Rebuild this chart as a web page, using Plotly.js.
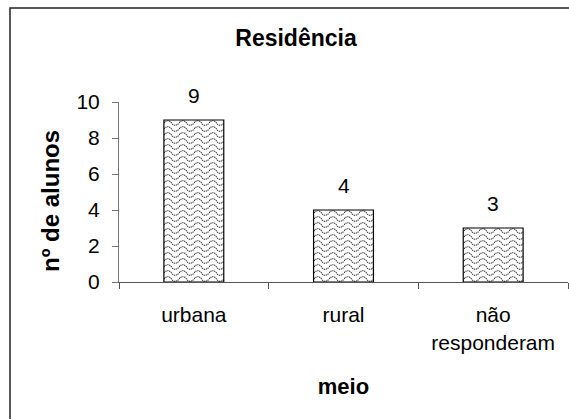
<!DOCTYPE html>
<html>
<head>
<meta charset="utf-8">
<script src="https://cdn.plot.ly/plotly-3.0.1.min.js"></script>
<style>
html,body{margin:0;padding:0;background:#fff;}
#chart{width:569px;height:419px;}
</style>
</head>
<body>
<div id="chart"></div>
<script>
const categories = ['urbana', 'rural', 'não<br>responderam'];
const values = [9, 4, 3];
const labels = ['9', '4', '3'];
const yTicks = [0, 2, 4, 6, 8, 10];

const FONT = 'Liberation Sans, Arial, sans-serif';

const trace = {
  type: 'bar',
  x: categories,
  y: values,
  marker: {
    color: '#ffffff',
    line: {color: '#000000', width: 1.2},
    pattern: {shape: '-', size: 6, solidity: 0.25, fgcolor: '#444444', bgcolor: '#ffffff', fillmode: 'replace'}
  },
  hoverinfo: 'skip'
};

const annotations = categories.map((c, i) => ({
  x: c, y: values[i], xref: 'x', yref: 'y',
  text: labels[i], showarrow: false, yanchor: 'bottom', yshift: 11,
  font: {family: FONT, size: 21, color: '#000'}
}));

annotations.push({
  xref: 'paper', yref: 'paper',
  x: (50 - 119) / 449, y: (282 - 201) / 180,
  xanchor: 'center', yanchor: 'middle',
  text: '<b>nº de alunos</b>', textangle: -90, showarrow: false,
  font: {family: FONT, size: 24, color: '#000'}
});

const layout = {
  width: 569, height: 419,
  margin: {l: 119, r: 1, t: 102, b: 137},
  paper_bgcolor: '#ffffff', plot_bgcolor: '#ffffff',
  showlegend: false,
  bargap: 0.6,
  title: {text: '<b>Residência</b>', font: {family: FONT, size: 23, color: '#000'},
          x: 296 / 569, xref: 'container', xanchor: 'center', y: 1 - 38 / 419, yanchor: 'middle'},
  xaxis: {
    type: 'category',
    tickson: 'boundaries',
    ticks: 'outside', ticklen: 6, tickcolor: '#555', tickwidth: 1,
    showline: true, linecolor: '#555', linewidth: 1,
    showgrid: false, zeroline: false,
    tickfont: {family: FONT, size: 21, color: '#000'},
    ticklabelstandoff: 14,
    title: {text: '<b>meio</b>', font: {family: FONT, size: 22, color: '#000'}, standoff: 26}
  },
  yaxis: {
    range: [0, 10],
    tickvals: yTicks,
    ticktext: yTicks.map(String),
    ticks: 'outside', ticklen: 6, tickcolor: '#777', tickwidth: 1,
    showline: true, linecolor: '#777', linewidth: 1,
    showgrid: false, zeroline: false,
    tickfont: {family: FONT, size: 21, color: '#000'},
    ticklabelstandoff: 8
  },
  annotations: annotations,
  shapes: [{
    type: 'rect', xref: 'paper', yref: 'paper',
    x0: (10 - 119) / 449, x1: (580 - 119) / 449,
    y0: (282 - 430) / 180, y1: (282 - 8) / 180,
    line: {color: '#222', width: 1.5}, fillcolor: 'rgba(0,0,0,0)', layer: 'below'
  }]
};

Plotly.newPlot('chart', [trace], layout, {displayModeBar: false, staticPlot: true}).then(function(gd){
  // turn the library's horizontal-line pattern into a wavy texture
  const pats = gd.querySelectorAll('defs pattern');
  pats.forEach(function(p){
    p.setAttribute('width', 15);
    p.setAttribute('height', 6);
    while (p.firstChild) p.removeChild(p.firstChild);
    const ns = 'http://www.w3.org/2000/svg';
    const r = document.createElementNS(ns, 'rect');
    r.setAttribute('width', 15); r.setAttribute('height', 6); r.setAttribute('fill', '#fff');
    p.appendChild(r);
    const path = document.createElementNS(ns, 'path');
    path.setAttribute('d', 'M0,3 C2,0 5.5,0 7.5,3 C9.5,6 13,6 15,3');
    path.setAttribute('fill', 'none');
    path.setAttribute('stroke', '#333');
    path.setAttribute('stroke-width', '1.1');
    path.setAttribute('stroke-dasharray', '1.3,0.7');
    p.appendChild(path);
  });
});
</script>
</body>
</html>
